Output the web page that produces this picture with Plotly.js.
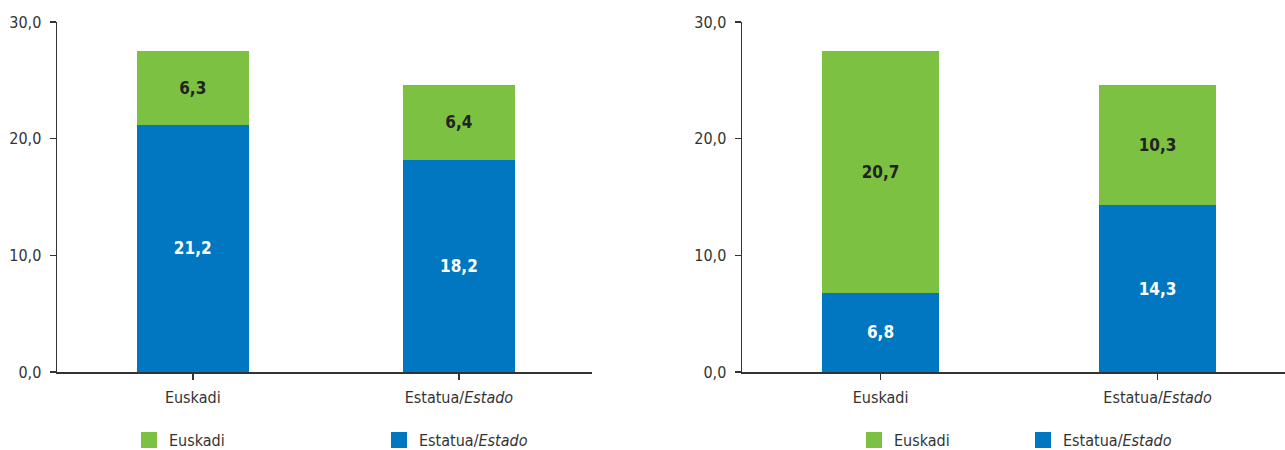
<!DOCTYPE html>
<html>
<head>
<meta charset="utf-8">
<script src="https://cdn.plot.ly/plotly-3.0.1.min.js"></script>
<style>html,body{margin:0;padding:0;background:#fff;}#chart{width:1285px;height:450px;}</style>
</head>
<body>
<div id="chart"></div>
<script>
// Categories (tick labels)
const categories = ["Euskadi", "Estatua/<i>Estado</i>"];
// Series names (legend)
const seriesNames = ["Euskadi", "Estatua/<i>Estado</i>"];
// Left chart values
const leftBlue = [21.2, 18.2];
const leftGreen = [6.3, 6.4];
// Right chart values
const rightBlue = [6.8, 14.3];
const rightGreen = [20.7, 10.3];
// Y ticks
const yTicks = [0, 10, 20, 30];

const GREEN = "#7dc142";
const BLUE = "#0077c0";
const FONT = "DejaVu Sans Condensed, Open Sans, sans-serif";
const xIdx = [0, 1];

function bar(vals, color, xa, ya, txtColor) {
  return {
    type: "bar", x: xIdx, y: vals, xaxis: xa, yaxis: ya,
    marker: {color: color, line: {width: 0}},
    width: 0.42,
    texttemplate: "%{y:.1f}", textposition: "inside", insidetextanchor: "middle",
    textfont: {family: FONT, size: 17, color: txtColor, weight: "bold", stretch: "condensed"},
    constraintext: "none",
    showlegend: false, hoverinfo: "skip"
  };
}
function legendItem(name, color, leg) {
  return {
    type: "scatter", mode: "markers", x: [null], y: [null],
    marker: {symbol: "square", size: 16, color: color},
    name: name, legend: leg, showlegend: true, hoverinfo: "skip"
  };
}

const data = [
  bar(leftBlue, BLUE, "x", "y", "#ffffff"),
  bar(leftGreen, GREEN, "x", "y", "#222222"),
  bar(rightBlue, BLUE, "x2", "y2", "#ffffff"),
  bar(rightGreen, GREEN, "x2", "y2", "#222222"),
  legendItem(seriesNames[0], GREEN, "legend"),
  legendItem(seriesNames[1], BLUE, "legend"),
  legendItem(seriesNames[0], GREEN, "legend2"),
  legendItem(seriesNames[1], BLUE, "legend2")
];

const W = 1285;
const tickFont = {family: FONT, size: 16, color: "#333333", stretch: "condensed"};
const axisCommon = {
  showline: true, linecolor: "#333333", linewidth: 1.5,
  ticks: "outside", ticklen: 6, tickcolor: "#333333", tickwidth: 1.5,
  showgrid: false, zeroline: false,
  tickfont: tickFont
};
const xCommon = Object.assign({}, axisCommon, {
  tickmode: "array", tickvals: xIdx, ticktext: categories,
  tickson: "boundaries", fixedrange: true, ticklabelstandoff: 4
});
const yCommon = Object.assign({}, axisCommon, {
  range: [0, 30], tickmode: "array", tickvals: yTicks,
  tickformat: ".1f", fixedrange: true, ticklabelstandoff: 5
});

const legendCommon = {
  orientation: "h", font: tickFont, traceorder: "normal",
  yref: "container", yanchor: "middle", y: 0.022, xanchor: "left",
  bgcolor: "rgba(0,0,0,0)", itemclick: false, itemdoubleclick: false
};

const layout = {
  width: W, height: 450,
  margin: {l: 0, r: 0, t: 22, b: 78},
  paper_bgcolor: "#ffffff", plot_bgcolor: "#ffffff",
  separators: ",.",
  barmode: "stack",
  font: tickFont,
  xaxis: Object.assign({}, xCommon, {domain: [57 / W, 592 / W], range: [-0.51, 1.5], anchor: "y"}),
  yaxis: Object.assign({}, yCommon, {domain: [0, 1], anchor: "x"}),
  xaxis2: Object.assign({}, xCommon, {domain: [742 / W, 1], range: [-0.5, 1.46], anchor: "y2"}),
  yaxis2: Object.assign({}, yCommon, {domain: [0, 1], anchor: "x2"}),
  legend: Object.assign({}, legendCommon, {x: 129 / W, entrywidth: 205}),
  legend2: Object.assign({}, legendCommon, {x: 854 / W, entrywidth: 124}),
  showlegend: true
};

Plotly.newPlot("chart", data, layout, {displayModeBar: false, staticPlot: true});
</script>
</body>
</html>
